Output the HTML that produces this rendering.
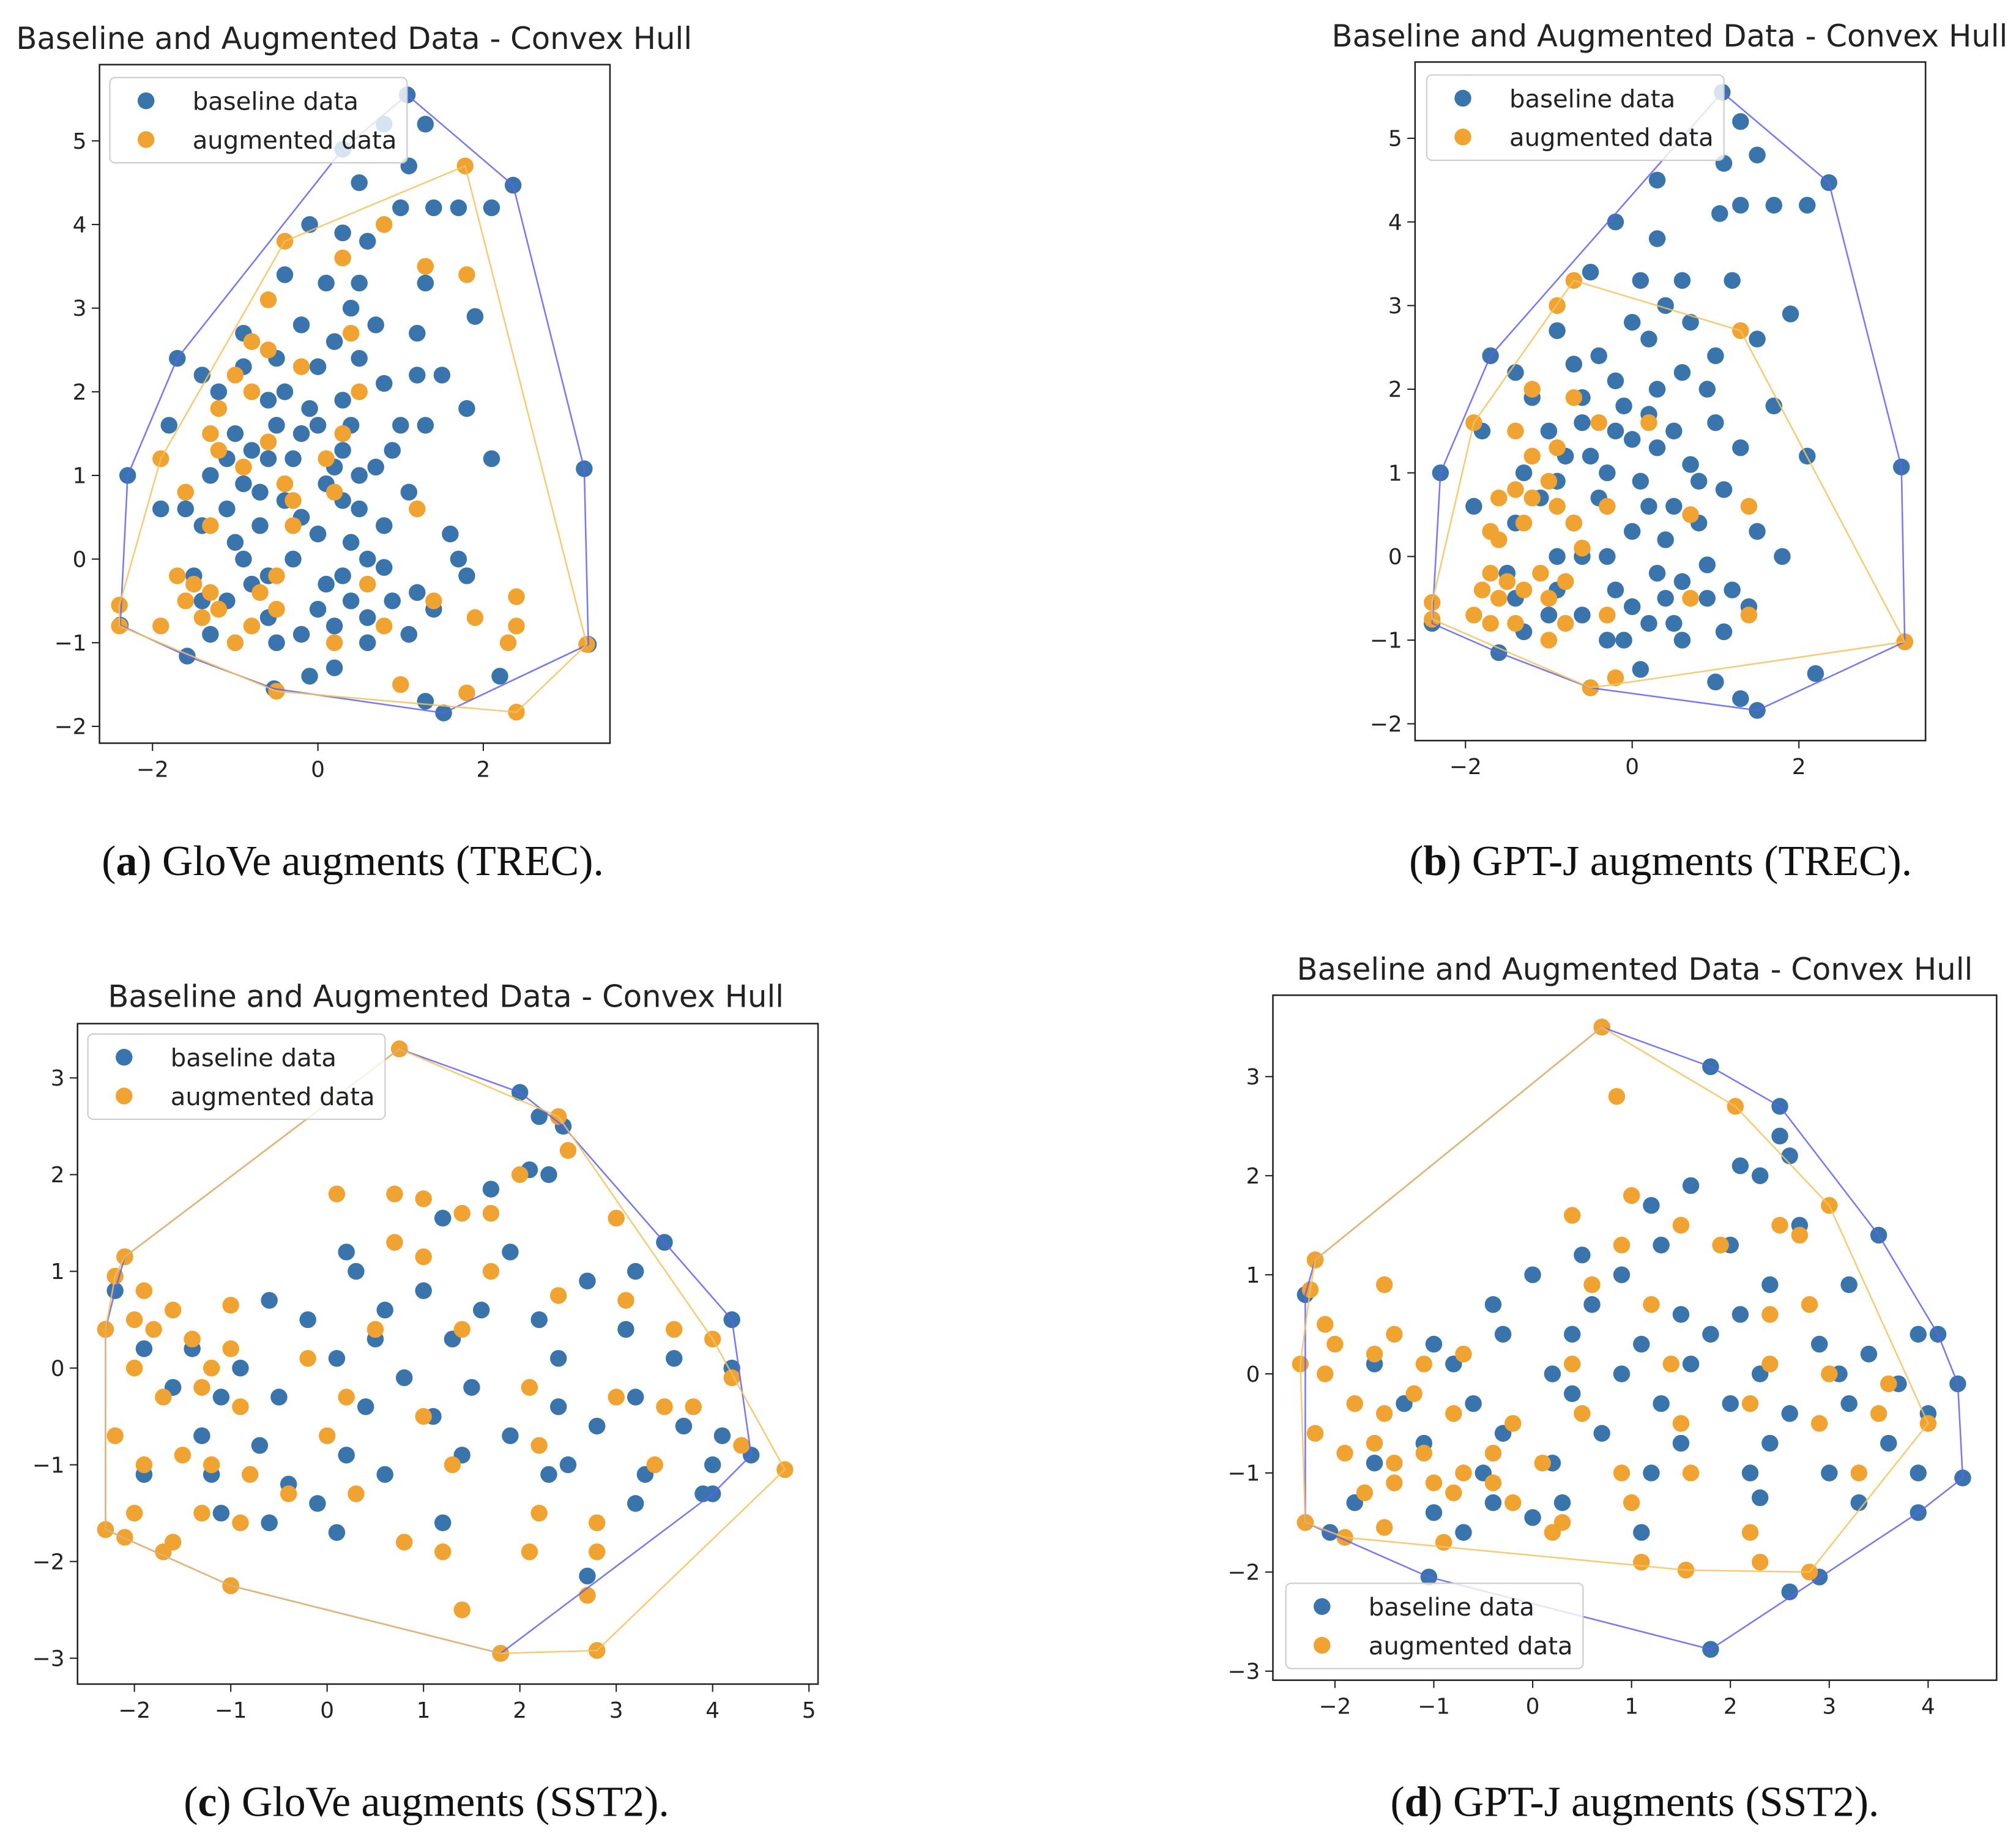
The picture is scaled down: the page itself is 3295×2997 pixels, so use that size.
<!DOCTYPE html>
<html><head><meta charset="utf-8"><style>
html,body{margin:0;padding:0;background:#fff;}
svg{display:block;}
text{font-family:"DejaVu Sans","Liberation Sans",sans-serif;fill:#222;}
.cap{font-family:"Liberation Serif",serif;font-size:33px;fill:#111;}
</style></head><body>
<svg id="fig" width="3295" height="2997" viewBox="0 0 1560 1419" preserveAspectRatio="none" xmlns="http://www.w3.org/2000/svg">
<text class="cap" x="273" y="677" text-anchor="middle">(<tspan font-weight="bold">a</tspan>) GloVe augments (TREC).</text>
<text class="cap" x="1285" y="677" text-anchor="middle">(<tspan font-weight="bold">b</tspan>) GPT-J augments (TREC).</text>
<text class="cap" x="330" y="1405" text-anchor="middle">(<tspan font-weight="bold">c</tspan>) GloVe augments (SST2).</text>
<text class="cap" x="1265" y="1405" text-anchor="middle">(<tspan font-weight="bold">d</tspan>) GPT-J augments (SST2).</text>
</svg>
<script>
const aBase=[[-2.3,1.0],[-1.7,2.4],[1.08,5.55],[2.36,4.47],[3.22,1.08],[3.27,-1.02],[1.52,-1.84],[-0.53,-1.55],[-1.58,-1.16],[-2.39,-0.79],[0.8,5.2],[1.3,5.2],[1.1,4.7],[0.3,4.9],[0.5,4.5],[-0.1,4.0],[0.3,3.9],[1.0,4.2],[1.4,4.2],[1.7,4.2],[2.1,4.2],[0.6,3.8],[-0.4,3.4],[0.1,3.3],[0.5,3.3],[1.3,3.3],[1.9,2.9],[-1.4,2.2],[-0.9,2.7],[-0.5,2.4],[0.2,2.6],[0.7,2.8],[1.2,2.7],[1.5,2.2],[-1.2,2.0],[-0.6,1.9],[-0.1,1.8],[0.3,1.9],[0.8,2.1],[1.3,1.6],[1.8,1.8],[-1.8,1.6],[-1.0,1.5],[-0.6,1.2],[-0.2,1.5],[0.3,1.3],[0.7,1.1],[1.0,1.6],[2.1,1.2],[-1.3,1.0],[-0.9,0.9],[-0.4,0.7],[0.1,0.9],[0.5,0.6],[1.1,0.8],[-1.9,0.6],[-1.4,0.4],[-0.7,0.4],[0.0,0.3],[0.4,0.2],[0.8,0.4],[1.6,0.3],[1.7,0.0],[-1.5,-0.2],[-0.9,0.0],[-0.3,0.0],[0.3,-0.2],[0.8,-0.1],[1.2,-0.4],[1.8,-0.2],[-1.4,-0.5],[-0.6,-0.7],[0.0,-0.6],[0.4,-0.5],[0.9,-0.5],[1.4,-0.6],[-1.3,-0.9],[-0.5,-1.0],[0.2,-0.8],[0.6,-1.0],[1.1,-0.9],[-0.1,-1.4],[0.2,-1.3],[1.3,-1.7],[2.2,-1.4],[-1.1,1.2],[-0.8,1.3],[-0.5,1.6],[-0.3,1.2],[0.0,1.6],[0.2,1.1],[0.4,1.6],[0.5,1.0],[-0.7,0.8],[-1.1,0.6],[-0.2,0.5],[0.3,0.7],[-0.4,2.0],[0.0,2.3],[0.5,2.4],[-0.9,2.3],[-1.6,0.6],[-0.8,-0.3],[0.1,-0.3],[0.6,0.0],[-1.1,-0.5],[-0.2,-0.9],[0.9,1.3],[1.2,2.2],[0.4,3.0],[-0.2,2.8],[-1.0,0.2],[0.6,-0.7],[-0.6,-0.2]];
const aAug=[[-2.4,-0.55],[-2.4,-0.8],[-0.5,-1.58],[2.4,-1.83],[3.25,-1.02],[2.4,-0.45],[1.78,4.7],[-0.4,3.8],[-1.9,1.2],[0.8,4.0],[1.3,3.5],[1.8,3.4],[0.3,3.6],[-0.6,3.1],[-0.8,2.6],[0.4,2.7],[-0.2,2.3],[-1.2,1.8],[-0.8,2.0],[0.5,2.0],[-0.6,1.4],[-1.2,1.3],[-0.4,0.9],[0.1,1.2],[-1.6,0.8],[1.2,0.6],[-0.3,0.4],[-1.3,0.4],[-1.7,-0.2],[-1.6,-0.5],[-1.3,-0.4],[-0.5,-0.2],[-0.5,-0.6],[0.6,-0.3],[-1.9,-0.8],[-1.0,-1.0],[-0.8,-0.8],[0.2,-1.0],[0.8,-0.8],[1.9,-0.7],[2.3,-1.0],[2.4,-0.8],[1.4,-0.5],[1.0,-1.5],[1.8,-1.6],[-1.4,-0.7],[-1.3,1.5],[-0.9,1.1],[-1.5,-0.3],[-1.2,-0.6],[-0.7,-0.4],[-0.3,0.7],[0.2,0.8],[-1.0,2.2],[-0.6,2.5],[0.3,1.5]];
const bBase=[[-2.3,1.0],[-1.7,2.4],[1.08,5.55],[2.36,4.47],[3.23,1.07],[3.27,-1.02],[1.5,-1.84],[-0.5,-1.57],[-1.6,-1.15],[-2.4,-0.8],[1.3,5.2],[1.1,4.7],[1.5,4.8],[0.3,4.5],[-0.2,4.0],[0.3,3.8],[1.05,4.1],[1.3,4.2],[1.7,4.2],[2.1,4.2],[-0.5,3.4],[0.1,3.3],[0.6,3.3],[1.2,3.3],[1.9,2.9],[-1.4,2.2],[-0.9,2.7],[-0.4,2.4],[0.2,2.6],[0.7,2.8],[1.5,2.6],[-1.2,1.9],[-0.6,1.9],[-0.1,1.8],[0.3,2.0],[0.9,2.0],[1.7,1.8],[-1.8,1.5],[-1.0,1.5],[-0.5,1.2],[-0.2,1.5],[0.3,1.3],[0.7,1.1],[1.0,1.6],[2.1,1.2],[-1.3,1.0],[-0.9,0.9],[-0.4,0.7],[0.1,0.9],[0.5,0.6],[1.1,0.8],[-1.9,0.6],[-1.4,0.4],[-0.7,0.4],[0.0,0.3],[0.4,0.2],[0.8,0.4],[1.5,0.3],[1.8,0.0],[-1.5,-0.2],[-0.9,0.0],[-0.3,0.0],[0.3,-0.2],[0.9,-0.1],[1.2,-0.4],[-1.4,-0.5],[-0.6,-0.7],[0.0,-0.6],[0.4,-0.5],[0.9,-0.5],[1.4,-0.6],[-1.3,-0.9],[-0.3,-1.0],[0.2,-0.8],[0.6,-1.0],[1.1,-0.9],[0.1,-1.35],[1.3,-1.7],[2.2,-1.4],[1.0,-1.5],[-0.8,1.2],[-0.3,1.0],[0.0,1.4],[0.2,1.7],[0.5,1.5],[0.6,2.2],[-0.6,1.6],[-0.2,2.1],[0.0,2.8],[0.4,3.0],[-0.7,2.3],[-1.1,0.7],[-0.6,0.0],[0.2,0.6],[0.6,-0.3],[-0.2,-0.4],[-0.9,-0.4],[0.8,0.9],[1.3,1.3],[-0.1,-1.0],[-1.0,-0.7],[0.5,-0.8],[1.0,2.4]];
const bAug=[[-2.4,-0.55],[-2.4,-0.75],[-0.5,-1.57],[3.27,-1.02],[-0.7,3.3],[1.3,2.7],[-0.9,3.0],[-1.9,1.6],[-1.2,2.0],[-0.7,1.9],[-0.4,1.6],[0.2,1.6],[-1.4,1.5],[-1.2,1.2],[-0.9,1.3],[-1.6,0.7],[-1.4,0.8],[-1.2,0.7],[-0.9,0.6],[-0.7,0.4],[-1.3,0.4],[-0.3,0.6],[0.7,0.5],[1.4,0.6],[-1.6,0.2],[-1.7,-0.2],[-1.6,-0.5],[-1.3,-0.4],[-1.0,-0.5],[-0.8,-0.3],[-1.9,-0.7],[-1.8,-0.4],[-1.4,-0.8],[-1.0,-1.0],[-0.8,-0.8],[-0.3,-0.7],[0.7,-0.5],[1.4,-0.7],[-1.7,-0.8],[-0.2,-1.45],[-1.5,-0.3],[-1.1,-0.2],[-1.7,0.3],[-1.0,0.9],[-0.6,0.1]];
const cBase=[[-2.2,0.8],[-2.1,1.15],[0.75,3.3],[2.0,2.85],[2.45,2.5],[3.5,1.3],[4.2,0.5],[4.4,-0.9],[4.0,-1.3],[1.8,-2.95],[-1.0,-2.25],[-2.3,-1.67],[-2.3,0.4],[2.2,2.6],[1.7,1.85],[2.1,2.05],[2.3,2.0],[1.2,1.55],[0.2,1.2],[0.3,1.0],[1.9,1.2],[3.2,1.0],[2.7,0.9],[1.0,0.8],[0.6,0.6],[1.6,0.6],[2.2,0.5],[3.1,0.4],[-0.6,0.7],[-0.2,0.5],[0.5,0.3],[1.3,0.3],[2.4,0.1],[3.6,0.1],[4.2,0.0],[-1.9,0.2],[-1.4,0.2],[-0.9,0.0],[0.1,0.1],[0.8,-0.1],[1.5,-0.2],[2.4,-0.4],[3.2,-0.3],[-1.6,-0.2],[-1.1,-0.3],[-0.5,-0.3],[0.4,-0.4],[1.1,-0.5],[1.9,-0.7],[2.8,-0.6],[3.7,-0.6],[4.1,-0.7],[-1.3,-0.7],[-0.7,-0.8],[0.2,-0.9],[1.4,-0.9],[2.5,-1.0],[3.3,-1.1],[4.0,-1.0],[-1.9,-1.1],[-1.2,-1.1],[-0.4,-1.2],[0.6,-1.1],[2.3,-1.1],[3.9,-1.3],[-1.1,-1.5],[-0.6,-1.6],[0.1,-1.7],[1.2,-1.6],[3.2,-1.4],[2.7,-2.15],[-0.1,-1.4]];
const cAug=[[-2.3,-1.67],[-2.3,0.4],[-2.1,1.15],[0.75,3.3],[2.5,2.25],[3.0,1.55],[4.75,-1.05],[2.8,-2.92],[1.8,-2.95],[-1.0,-2.25],[-2.2,0.95],[-1.9,0.8],[-2.0,0.5],[0.1,1.8],[0.7,1.8],[1.0,1.75],[1.4,1.6],[1.7,1.6],[2.0,2.0],[2.4,2.6],[0.7,1.3],[1.0,1.15],[1.7,1.0],[2.4,0.75],[3.1,0.7],[-1.0,0.65],[-1.6,0.6],[-1.8,0.4],[-1.4,0.3],[-1.0,0.2],[-1.2,0.0],[-0.2,0.1],[0.5,0.4],[1.4,0.4],[3.6,0.4],[4.0,0.3],[-2.0,0.0],[-1.7,-0.3],[-1.3,-0.2],[-0.9,-0.4],[0.2,-0.3],[1.0,-0.5],[2.1,-0.2],[3.0,-0.3],[3.5,-0.4],[3.8,-0.4],[4.2,-0.1],[-2.2,-0.7],[-1.9,-1.0],[-1.5,-0.9],[-1.2,-1.0],[-0.8,-1.1],[0.0,-0.7],[1.3,-1.0],[2.2,-0.8],[3.4,-1.0],[4.3,-0.8],[-2.0,-1.5],[-1.6,-1.8],[-1.3,-1.5],[-0.9,-1.6],[-0.4,-1.3],[0.3,-1.3],[0.8,-1.8],[1.2,-1.9],[2.2,-1.5],[2.1,-1.9],[2.8,-1.6],[2.8,-1.9],[1.4,-2.5],[2.7,-2.35],[-2.1,-1.75],[-1.7,-1.9]];
const dBase=[[-2.3,-1.5],[-2.3,0.8],[-2.2,1.15],[0.7,3.5],[1.8,3.1],[2.5,2.7],[3.5,1.4],[4.1,0.4],[4.3,-0.1],[4.35,-1.05],[3.9,-1.4],[2.9,-2.05],[1.8,-2.78],[-1.05,-2.05],[-2.05,-1.6],[2.5,2.4],[2.1,2.1],[2.3,2.0],[2.6,2.2],[1.6,1.9],[1.2,1.7],[2.7,1.5],[0.5,1.2],[1.3,1.3],[2.0,1.3],[0.0,1.0],[0.9,1.0],[2.4,0.9],[3.2,0.9],[-0.4,0.7],[0.6,0.7],[1.5,0.6],[2.1,0.6],[3.9,0.4],[-1.0,0.3],[-0.3,0.4],[0.4,0.4],[1.1,0.3],[1.8,0.4],[2.9,0.3],[3.4,0.2],[-1.6,0.1],[-0.8,0.1],[0.2,0.0],[0.9,0.0],[1.6,0.1],[2.3,0.0],[3.1,0.0],[3.7,-0.1],[-1.3,-0.3],[-0.6,-0.3],[0.4,-0.2],[1.3,-0.3],[2.0,-0.3],[2.6,-0.4],[3.2,-0.3],[4.0,-0.4],[-1.1,-0.7],[-0.3,-0.6],[0.7,-0.6],[1.5,-0.7],[2.4,-0.7],[3.6,-0.7],[-1.6,-0.9],[-0.5,-1.0],[0.2,-0.9],[1.2,-1.0],[2.2,-1.0],[3.0,-1.0],[3.9,-1.0],[-1.8,-1.3],[-1.0,-1.4],[-0.4,-1.3],[0.3,-1.3],[1.1,-1.6],[2.3,-1.25],[3.3,-1.3],[-0.7,-1.6],[0.0,-1.45],[2.6,-2.2]];
const dAug=[[-2.3,-1.5],[-2.35,0.1],[-2.2,1.15],[0.7,3.5],[2.05,2.7],[3.0,1.7],[4.0,-0.5],[2.8,-2.0],[1.55,-1.98],[-1.9,-1.65],[0.85,2.8],[-2.25,0.85],[-2.1,0.5],[-1.5,0.9],[0.4,1.6],[1.0,1.8],[1.5,1.5],[2.5,1.5],[2.7,1.4],[0.9,1.3],[1.9,1.3],[0.6,0.9],[1.2,0.7],[2.4,0.6],[2.8,0.7],[-2.0,0.3],[-1.6,0.2],[-1.4,0.4],[-1.1,0.1],[-0.7,0.2],[0.4,0.1],[1.4,0.1],[2.4,0.1],[3.0,0.0],[3.6,-0.1],[-2.1,0.0],[-1.8,-0.3],[-1.5,-0.4],[-1.2,-0.2],[-0.8,-0.4],[-0.2,-0.5],[0.5,-0.4],[1.5,-0.5],[2.2,-0.3],[2.9,-0.5],[3.5,-0.4],[-2.2,-0.6],[-1.9,-0.8],[-1.6,-0.7],[-1.4,-0.9],[-1.1,-0.8],[-0.7,-1.0],[-0.4,-0.8],[0.1,-0.9],[0.9,-1.0],[1.6,-1.0],[3.3,-1.0],[-1.7,-1.2],[-1.4,-1.1],[-0.8,-1.2],[-0.2,-1.3],[0.3,-1.5],[1.0,-1.3],[-1.5,-1.55],[-0.9,-1.7],[0.2,-1.6],[1.1,-1.9],[2.3,-1.9],[2.2,-1.6],[-1.0,-1.1],[-0.4,-1.1]];

const BLUE='#3a74ad', ORANGE='#f0a331';
const NS='http://www.w3.org/2000/svg';
const svg=document.getElementById('fig');
function mk(tag,attrs,parent){const e=document.createElementNS(NS,tag);for(const k in attrs)e.setAttribute(k,attrs[k]);(parent||svg).appendChild(e);return e;}
function hull(pts){const p=pts.slice().sort((a,b)=>a[0]-b[0]||a[1]-b[1]);const cr=(o,a,b)=>(a[0]-o[0])*(b[1]-o[1])-(a[1]-o[1])*(b[0]-o[0]);const lo=[],up=[];for(const q of p){while(lo.length>=2&&cr(lo[lo.length-2],lo[lo.length-1],q)<=0)lo.pop();lo.push(q);}for(let i=p.length-1;i>=0;i--){const q=p[i];while(up.length>=2&&cr(up[up.length-2],up[up.length-1],q)<=0)up.pop();up.push(q);}up.pop();lo.pop();return lo.concat(up);}

function chart(id,cfg){
  const g=mk('g',{});
  
  
  const {L,R,T,B,xv0,xp0,xv1,xp1,yv0,yp0,yv1,yp1}=cfg;
  const sx=v=>xp0+(v-xv0)*(xp1-xp0)/(xv1-xv0);
  const sy=v=>yp0+(v-yv0)*(yp1-yp0)/(yv1-yv0);
  const t=mk('text',{x:cfg.tx,y:cfg.ty,'text-anchor':'middle','font-size':23.5},g);t.textContent='Baseline and Augmented Data - Convex Hull';
  
  
  for(const v of cfg.xt){const x=sx(v);mk('line',{x1:x,x2:x,y1:B,y2:B+6,stroke:'#222','stroke-width':1},g);const l=mk('text',{x:x,y:B+26,'text-anchor':'middle','font-size':17},g);l.textContent=(v<0?'\u2212'+(-v):v);
    
    }
  for(const v of cfg.yt){const y=sy(v);mk('line',{x1:L-6,x2:L,y1:y,y2:y,stroke:'#222','stroke-width':1},g);const l=mk('text',{x:L-10,y:y+6,'text-anchor':'end','font-size':17},g);l.textContent=(v<0?'\u2212'+(-v):v);
    
    }
  const series=[[cfg.base,BLUE,'#6060f0','baseline'],[cfg.aug,ORANGE,'#f5c25c','augmented']];
  for(const [pts,col,hc,nm] of series){for(const p of pts){const c=mk('circle',{cx:sx(p[0]),cy:sy(p[1]),r:6.5,fill:col},g);
    
    }}
  for(const [pts,col,hc,nm] of series){const h=hull(pts);const pl=mk('polygon',{points:h.map(p=>sx(p[0])+','+sy(p[1])).join(' '),fill:'none',stroke:hc,'stroke-width':1.2,'stroke-opacity':0.85},g);
    
    }
  const f=mk('rect',{x:L,y:T,width:R-L,height:B-T,fill:'none',stroke:'#222','stroke-width':1.2},g);
  
  
  const [lx,ly]=cfg.leg;
  const lg=mk('g',{},g);
  
  
  mk('rect',{x:lx,y:ly,width:230,height:66,rx:4,fill:'#fff','fill-opacity':0.8,stroke:'#ccc'},lg);
  const labels=['baseline data','augmented data'],cols=[BLUE,ORANGE];
  for(let i=0;i<2;i++){const e=mk('g',{},lg);
    
    
    mk('circle',{cx:lx+28,cy:ly+18+i*30,r:6.5,fill:cols[i]},e);const tx=mk('text',{x:lx+64,y:ly+25+i*30,'font-size':19},e);tx.textContent=labels[i];}
}
chart('a',{L:77,R:472,T:50,B:575,xv0:-2,xp0:118,xv1:2,xp1:374,yv0:5,yp0:109,yv1:-2,yp1:562,xt:[-2,0,2],yt:[-2,-1,0,1,2,3,4,5],tx:274,ty:38,base:aBase,aug:aAug,leg:[85,60]});
chart('b',{L:1095,R:1490,T:48,B:573,xv0:-2,xp0:1134,xv1:2,xp1:1392,yv0:5,yp0:107,yv1:-2,yp1:560,xt:[-2,0,2],yt:[-2,-1,0,1,2,3,4,5],tx:1292,ty:36,base:bBase,aug:bAug,leg:[1104,58]});
chart('c',{L:60,R:633,T:792,B:1303,xv0:-2,xp0:104,xv1:5,xp1:626,yv0:3,yp0:834,yv1:-3,yp1:1283,xt:[-2,-1,0,1,2,3,4,5],yt:[-3,-2,-1,0,1,2,3],tx:345,ty:779,base:cBase,aug:cAug,leg:[68,800]});
chart('d',{L:985,R:1545,T:770,B:1300,xv0:-2,xp0:1033,xv1:4,xp1:1492,yv0:3,yp0:833,yv1:-3,yp1:1293,xt:[-2,-1,0,1,2,3,4],yt:[-3,-2,-1,0,1,2,3],tx:1265,ty:758,base:dBase,aug:dAug,leg:[995,1225]});
</script>
</body></html>
